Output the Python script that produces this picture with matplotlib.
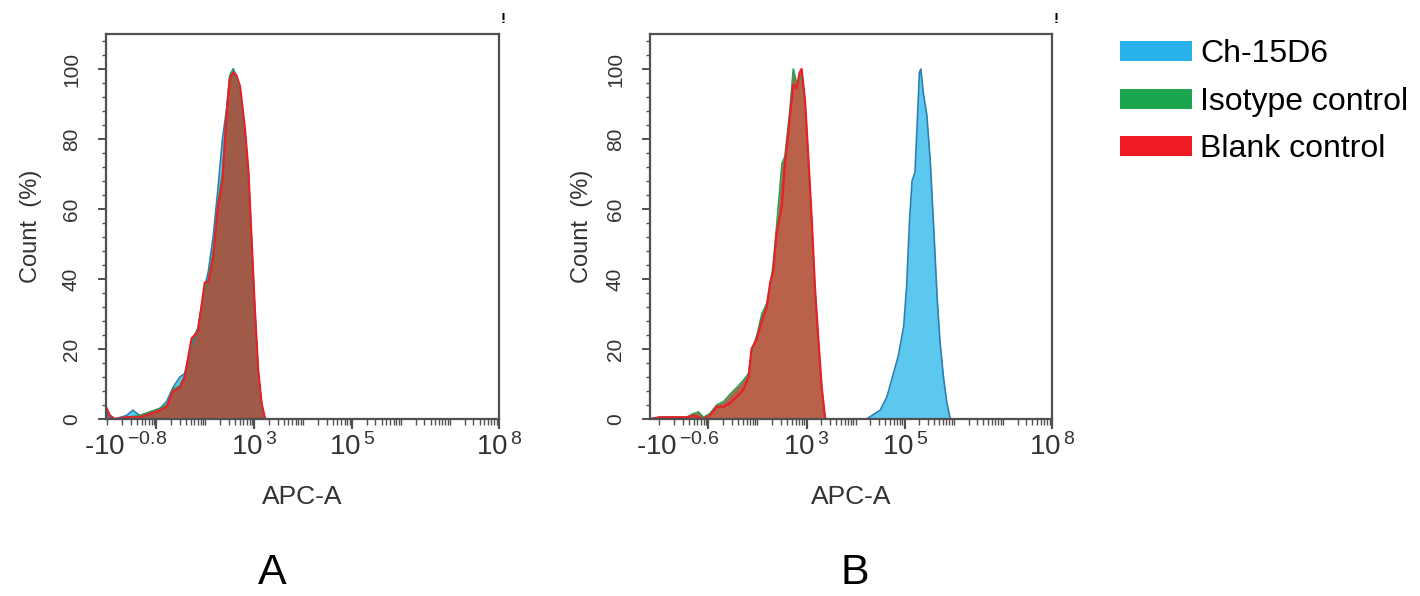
import numpy as np
import matplotlib.pyplot as plt
import matplotlib.transforms as mtransforms
from matplotlib.patches import Patch
from matplotlib.ticker import MultipleLocator

plt.rcParams['font.family'] = ['Liberation Sans', 'DejaVu Sans']
plt.rcParams['mathtext.fontset'] = 'custom'
plt.rcParams['mathtext.rm'] = 'Liberation Sans'

# x values are in "decade" display units of the biexponential APC-A axis
# panel A
a_red_x = [-0.03, 0.05, 0.15, 0.39, 0.66, 0.87, 1.07, 1.21, 1.34, 1.48, 1.58, 1.72,
           1.85, 1.99, 2.06, 2.16, 2.26, 2.35, 2.43, 2.50, 2.57, 2.64, 2.71, 2.81,
           2.88, 2.94, 3.01, 3.08, 3.15, 3.22]
a_red_y = [3.5, 1.0, 0.0, 0.5, 0.5, 1.5, 2.5, 3.5, 8.0, 9.0, 12.0, 23.0,
           25.0, 39.0, 39.0, 46.0, 61.0, 68.0, 86.0, 97.0, 99.0, 98.0, 95.0, 83.0,
           71.0, 53.0, 32.0, 14.0, 4.5, 0.0]
a_green_x = [-0.03, 0.05, 0.15, 0.39, 0.66, 0.87, 1.07, 1.21, 1.34, 1.48, 1.58, 1.72,
             1.85, 1.99, 2.06, 2.16, 2.26, 2.35, 2.43, 2.50, 2.57, 2.64, 2.71, 2.81,
             2.88, 2.94, 3.01, 3.08, 3.15, 3.22]
a_green_y = [3.0, 1.0, 0.0, 0.5, 1.0, 2.0, 3.0, 4.0, 8.5, 9.5, 12.5, 22.0,
             26.0, 37.0, 40.0, 48.0, 62.0, 70.0, 87.0, 98.0, 100.0, 97.0, 94.0, 82.0,
             70.0, 52.0, 31.0, 13.0, 4.0, 0.0]
a_blue_x = [-0.03, 0.05, 0.15, 0.39, 0.52, 0.66, 0.87, 1.07, 1.21, 1.34, 1.48, 1.58,
            1.72, 1.85, 1.99, 2.06, 2.16, 2.26, 2.35, 2.43, 2.50, 2.57, 2.64, 2.71,
            2.81, 2.88, 2.94, 3.01, 3.08, 3.15, 3.22]
a_blue_y = [2.0, 0.5, 0.0, 1.0, 2.5, 1.0, 2.0, 3.0, 5.0, 9.0, 12.0, 13.0,
            21.0, 26.0, 38.0, 42.0, 52.0, 66.0, 80.0, 88.0, 98.0, 100.0, 98.0, 94.0,
            82.0, 70.0, 52.0, 31.0, 13.0, 4.0, 0.0]

# panel B
b_red_x = [-0.19, 0.01, 0.56, 0.69, 0.90, 1.03, 1.17, 1.31, 1.44, 1.58, 1.71, 1.82,
           1.88, 1.99, 2.09, 2.19, 2.26, 2.32, 2.39, 2.50, 2.56, 2.66, 2.73, 2.80,
           2.86, 2.90, 2.97, 3.04, 3.11, 3.17, 3.24, 3.31, 3.38]
b_red_y = [0.0, 0.5, 0.5, 1.0, 0.0, 1.0, 3.5, 3.5, 4.5, 6.4, 8.3, 12.0,
           20.0, 23.0, 28.0, 32.0, 39.0, 42.0, 53.0, 61.0, 73.0, 86.0, 95.5, 94.5,
           99.0, 100.0, 91.0, 74.0, 56.0, 38.0, 23.0, 9.0, 0.0]
b_green_x = [-0.19, 0.01, 0.56, 0.69, 0.80, 0.90, 1.03, 1.17, 1.31, 1.44, 1.58, 1.71,
             1.82, 1.88, 1.99, 2.09, 2.19, 2.26, 2.32, 2.39, 2.50, 2.56, 2.66, 2.73,
             2.80, 2.86, 2.90, 2.97, 3.04, 3.11, 3.17, 3.24, 3.31, 3.38]
b_green_y = [0.0, 0.5, 0.5, 1.5, 2.0, 0.5, 1.5, 4.0, 5.0, 7.0, 9.0, 11.0,
             13.0, 19.0, 24.0, 30.0, 33.0, 38.0, 44.0, 55.0, 73.0, 75.0, 88.0, 100.0,
             96.0, 97.0, 98.0, 90.0, 73.0, 55.0, 37.0, 22.0, 8.5, 0.0]
b_blue_x = [4.23, 4.33, 4.50, 4.64, 4.77, 4.87, 4.98, 5.04, 5.10, 5.15, 5.21, 5.26,
            5.30, 5.33, 5.38, 5.45, 5.52, 5.59, 5.66, 5.72, 5.79, 5.86, 5.93]
b_blue_y = [0.0, 1.0, 2.5, 6.4, 13.0, 18.0, 26.5, 38.0, 57.0, 68.0, 70.5, 86.0,
            99.0, 100.0, 93.0, 87.0, 74.0, 55.0, 35.0, 22.0, 12.0, 4.5, 0.0]

tick_pos = [1, 3, 5, 8]
tick_a = [r'-$\mathregular{10^{\,{-}0.8}}$', r'$\mathregular{10^{\,3}}$',
          r'$\mathregular{10^{\,5}}$', r'$\mathregular{10^{\,8}}$']
tick_b = [r'-$\mathregular{10^{\,{-}0.6}}$', r'$\mathregular{10^{\,3}}$',
          r'$\mathregular{10^{\,5}}$', r'$\mathregular{10^{\,8}}$']

legend_names = ['Ch-15D6', 'Isotype control', 'Blank control']
legend_colors = ['#29B1EA', '#1BA54E', '#EE1B22']

BLUE_FILL = '#5CC8F0'
BLUE_EDGE = '#2C7FB0'
GREEN = '#2BA150'
RED = '#E8202A'
SPINE = '#505050'
TXT = '#333333'

fig = plt.figure(figsize=(14.2, 5.96), dpi=100)
ax_a = fig.add_axes([0.0746, 0.297, 0.2768, 0.646])
ax_b = fig.add_axes([0.4577, 0.297, 0.2831, 0.646])


def style_axis(ax, xmin, labels, ylab_x):
    ax.set_xlim(xmin, 8)
    ax.set_ylim(0, 110)
    for s in ax.spines.values():
        s.set_color(SPINE)
        s.set_linewidth(1.6)
    minors = []
    for d in range(0, 8):
        for m in range(2, 10):
            minors.append(d + np.log10(m))
    ax.set_xticks(tick_pos, labels, minor=False)
    ax.set_xticks([p for p in range(0, 9) if p not in tick_pos] + minors, minor=True)
    ax.tick_params(axis='x', which='major', length=7, width=1.6, color=SPINE,
                   labelsize=20, pad=3, labelcolor=TXT)
    ax.tick_params(axis='x', which='minor', length=4, width=1.0, color=SPINE)
    # first label sits left of its tick
    first = ax.get_xticklabels()[0]
    first.set_ha('right')
    first.set_transform(first.get_transform() +
                        mtransforms.ScaledTranslation(8 / 72, 0, fig.dpi_scale_trans))
    ax.yaxis.set_major_locator(MultipleLocator(20))
    ax.yaxis.set_minor_locator(MultipleLocator(4))
    ax.tick_params(axis='y', which='major', length=6, width=1.4, color=SPINE,
                   labelsize=15, labelrotation=90, labelcolor=TXT, pad=12)
    ax.tick_params(axis='y', which='minor', length=3, width=1.0, color=SPINE)
    for lab in ax.get_yticklabels():
        lab.set_va('center')
    ax.set_ylabel('Count  (%)', fontsize=17, color=TXT, va='center')
    ax.yaxis.set_label_coords(ylab_x, 0.5)
    ax.set_xlabel('APC-A', fontsize=19, color=TXT, va='center')
    ax.xaxis.set_label_coords(0.5, -0.203)
    ax.text(1.01, 1.04, '!', transform=ax.transAxes, fontsize=11,
            fontweight='bold', ha='center', va='center')


# panel A
ax_a.fill_between(a_blue_x, a_blue_y, color=BLUE_FILL, lw=0)
ax_a.plot(a_blue_x, a_blue_y, color=BLUE_EDGE, lw=1.2)
ax_a.fill_between(a_green_x, a_green_y, color='#8E6A4C', lw=0)
ax_a.plot(a_green_x, a_green_y, color=GREEN, lw=1.2)
ax_a.fill_between(a_red_x, a_red_y, color='#A05A48', lw=0)
ax_a.plot(a_red_x, a_red_y, color=RED, lw=1.6)
style_axis(ax_a, -0.03, tick_a, -0.19)

# panel B
ax_b.fill_between(b_blue_x, b_blue_y, color=BLUE_FILL, lw=0)
ax_b.plot(b_blue_x, b_blue_y, color=BLUE_EDGE, lw=1.2)
ax_b.fill_between(b_green_x, b_green_y, color='#A8664C', lw=0)
ax_b.plot(b_green_x, b_green_y, color=GREEN, lw=1.2)
ax_b.fill_between(b_red_x, b_red_y, color='#B9614B', lw=0)
ax_b.plot(b_red_x, b_red_y, color=RED, lw=1.6)
style_axis(ax_b, -0.19, tick_b, -0.17)

# legend
handles = [Patch(facecolor=c, edgecolor='none') for c in legend_colors]
fig.legend(handles, legend_names, loc='upper left', bbox_to_anchor=(0.789, 0.934),
           frameon=False, fontsize=23, handlelength=2.25, handleheight=0.6,
           labelspacing=0.55, handletextpad=0.25, borderpad=0, borderaxespad=0)

fig.text(0.1915, 0.02, 'A', fontsize=31, ha='center', va='baseline')
fig.text(0.602, 0.02, 'B', fontsize=31, ha='center', va='baseline')

fig.savefig('out.png', dpi=100, facecolor='white')
